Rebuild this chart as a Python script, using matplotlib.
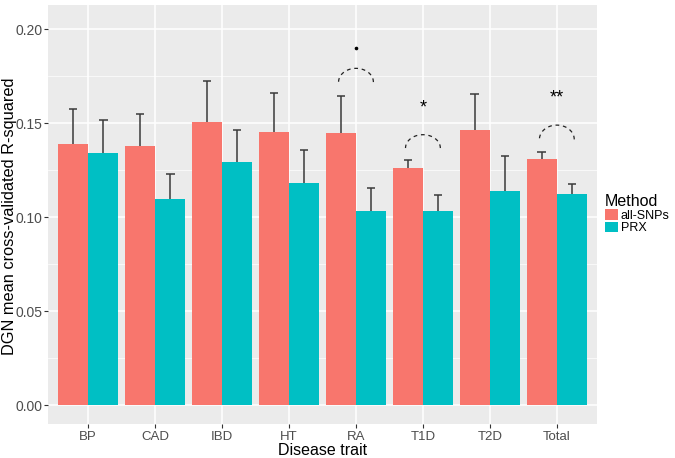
import numpy as np
import matplotlib
matplotlib.use("Agg")
import matplotlib.pyplot as plt

plt.rcParams['font.family'] = ['Liberation Sans', 'DejaVu Sans']

traits = ["BP", "CAD", "IBD", "HT", "RA", "T1D", "T2D", "Total"]
methods = ["all-SNPs", "PRX"]
colors = ["#F8766D", "#00BFC4"]

all_snps = [0.1388, 0.1379, 0.1505, 0.1452, 0.1449, 0.1259, 0.1465, 0.1309]
all_snps_upper = [0.1573, 0.1550, 0.1723, 0.1661, 0.1642, 0.1305, 0.1654, 0.1347]
prx = [0.1342, 0.1094, 0.1294, 0.1179, 0.1030, 0.1034, 0.1137, 0.1122]
prx_upper = [0.1518, 0.1231, 0.1464, 0.1358, 0.1153, 0.1115, 0.1323, 0.1174]

# significance marks: trait, arc base, arc top, label, label y
sig_traits = ["RA", "T1D", "Total"]
sig_arc_base = [0.1718, 0.1367, 0.1413]
sig_arc_top = [0.1791, 0.1438, 0.1489]
sig_labels = ["\u00b7", "*", "**"]
sig_label_y = [0.1897, 0.1578, 0.1631]

fig = plt.figure(figsize=(6.75, 4.58), dpi=100)
ax = fig.add_axes([48 / 675, 1 - 424 / 458, (597 - 48) / 675, (424 - 5) / 458])
ax.set_facecolor("#EBEBEB")

x = np.arange(1, len(traits) + 1)
w = 0.45
series = [(all_snps, all_snps_upper), (prx, prx_upper)]
for i, (vals, upper) in enumerate(series):
    xs = x + (i - 0.5) * w
    ax.bar(xs, vals, width=w, color=colors[i], label=methods[i], zorder=2)
    ax.vlines(xs, vals, upper, color="#3A3A3A", lw=1.1, zorder=3)
    ax.hlines(upper, xs - 0.065, xs + 0.065, color="#3A3A3A", lw=1.1, zorder=3)

t = np.linspace(0, np.pi, 60)
for tr, base, top, lab, ly in zip(sig_traits, sig_arc_base, sig_arc_top, sig_labels, sig_label_y):
    cx = traits.index(tr) + 1
    ax.plot(cx + 0.26 * np.cos(t), base + (top - base) * np.sin(t),
            ls=(0, (3, 3)), color="#222222", lw=0.9, zorder=4)
    if lab == "\u00b7":
        ax.plot(cx, ly, marker="o", ms=1.6, color="black", zorder=4)
    else:
        ax.text(cx, ly, lab, ha="center", va="center", fontsize=13, color="black", zorder=4)

ax.set_xlim(0.4, 8.6)
ax.set_ylim(-0.0101, 0.2128)
ax.set_xticks(x)
ax.set_xticklabels(traits)
ax.set_yticks([0, 0.05, 0.10, 0.15, 0.20])
ax.set_yticklabels(["0.00", "0.05", "0.10", "0.15", "0.20"])
ax.set_yticks([0.025, 0.075, 0.125, 0.175], minor=True)
ax.grid(which="major", color="white", lw=1.1, zorder=0)
ax.grid(which="minor", axis="y", color="white", lw=0.5, zorder=0)
ax.set_axisbelow(True)
for s in ax.spines.values():
    s.set_visible(False)
ax.tick_params(axis="both", which="major", length=3, width=0.8, color="#333333",
               labelsize=10, labelcolor="#4D4D4D", pad=2)
ax.tick_params(axis="y", pad=0.8)
ax.tick_params(axis="x", labelsize=9.5)
ax.tick_params(axis="y", which="minor", length=0)

ax.set_xlabel("Disease trait", fontsize=11.5, labelpad=0)
ax.set_ylabel("DGN mean cross-validated R-squared", fontsize=11.8)
ax.yaxis.set_label_coords(-0.056, 0.496)

leg = ax.legend(title="Method", loc="upper left", bbox_to_anchor=(605 / 675, 1 - 194 / 458),
                bbox_transform=fig.transFigure, frameon=False, fontsize=9,
                title_fontsize=11.5, handlelength=1.0, handleheight=0.93,
                handletextpad=0.25, labelspacing=0.0, borderpad=0, borderaxespad=0)
leg._legend_box.align = "left"

fig.savefig("out.png", dpi=100)
